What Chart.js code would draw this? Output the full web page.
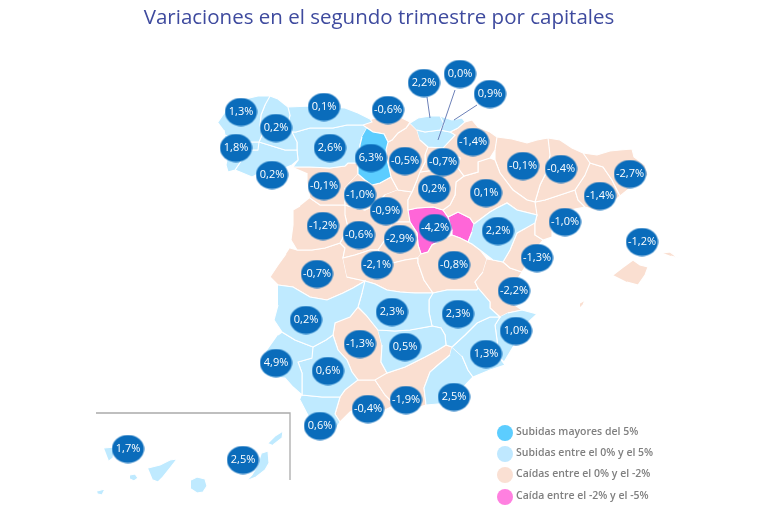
<!DOCTYPE html>
<html lang="es"><head><meta charset="utf-8">
<script src="https://cdn.jsdelivr.net/npm/chart.js@4"></script>
<style>html,body{margin:0;padding:0;background:#fff}canvas{display:block}</style>
</head><body><canvas id="c" width="758" height="525"></canvas>
<script>
// ---- data ----
const titleText = "Variaciones en el segundo trimestre por capitales";
const legendLabels = ["Subidas mayores del 5%","Subidas entre el 0% y el 5%","Caídas entre el 0% y el -2%","Caída entre el -2% y el -5%"];
const legendX = [505,505,505,505];
const legendY = [433,454,475,497];
const bubbleLabels = ["1,3%","0,2%","1,8%","0,2%","0,1%","2,6%","-0,6%","6,3%","-0,5%","2,2%","0,0%","0,9%","-1,4%","-0,7%","0,2%","-0,1%","-1,0%","-0,9%","-1,2%","-0,6%","-2,9%","-4,2%","0,1%","2,2%","-0,1%","-0,4%","-2,7%","-1,4%","-1,0%","-1,3%","-1,2%","-0,7%","-2,1%","-0,8%","-2,2%","0,2%","2,3%","2,3%","1,0%","-1,3%","0,5%","1,3%","4,9%","0,6%","-0,4%","-1,9%","2,5%","0,6%","1,7%","2,5%"];
const bubbleX = [241,276,236,272,324,330,388,371,405,424,460,490,473,443,434,324,360,386,323,359,400,435,486,498,523,561,630,600,565,537,642,317,377,454,514,306,392,458,516,360,405,486,276,328,368,406,454,320,128,243];
const bubbleY = [112,128,148,175,107,148,110,158,161,83,74,94,142,162,189,186,195,211,226,235,239,228,193,231,166,169,174,196,222,258,242,274,265,265,291,320,312,314,331,344,347,354,363,371,409,400,397,426,449,460];

const coruna=[[218,122],[225,112],[233,103],[245,99],[258,96],[270,96],[265,105],[261,115],[260,125],[262,135],[259,142],[250,142],[240,141],[225,135],[224,130]];
const lugo=[[270,96],[278,99],[288,107],[290,115],[288,125],[292,132],[297,142],[297,150],[285,150],[272,146],[259,142],[262,135],[260,125],[261,115],[265,105]];
const pontevedra=[[225,135],[240,141],[250,142],[259,142],[258,150],[250,150],[243,158],[235,170],[228,172],[226,165],[228,155]];
const ourense=[[259,142],[272,146],[285,150],[297,150],[298,160],[292,165],[280,170],[262,172],[252,177],[240,172],[235,170],[243,158],[250,150],[258,150]];
const asturias=[[288,107],[312,106],[345,108],[358,113],[370,119],[372,122],[363,125],[347,125],[333,128],[310,128],[296,132],[292,132],[288,125],[290,115]];
const cantabria=[[363,125],[372,119],[385,116],[398,116],[410,122],[406,128],[398,133],[392,140],[388,142],[384,134],[373,132],[367,128]];
const leon=[[292,132],[296,132],[310,128],[333,128],[347,125],[363,125],[367,128],[362,137],[360,145],[360,155],[358,163],[348,163],[345,166],[330,168],[310,167],[293,167],[298,160],[297,150],[297,142]];
const palencia=[[367,128],[373,132],[384,134],[388,142],[386,150],[387,160],[389,168],[391,177],[380,183],[372,185],[365,180],[358,174],[358,163],[360,155],[360,145],[362,137]];
const burgos=[[388,142],[392,140],[398,133],[406,128],[410,123],[417,130],[420,140],[428,147],[425,155],[425,162],[420,172],[417,180],[412,192],[398,190],[391,177],[389,168],[387,160],[386,150]];
const rioja=[[428,147],[443,148],[448,152],[460,158],[458,168],[450,172],[435,170],[420,172],[425,162],[425,155]];
const bizkaia=[[410,123],[418,118],[430,116],[440,116],[444,124],[440,130],[425,132],[417,130]];
const gipuzkoa=[[440,116],[452,120],[462,118],[465,122],[458,128],[450,132],[440,130],[444,124]];
const alava=[[417,130],[425,132],[440,130],[450,132],[455,135],[443,148],[428,147],[420,140]];
const trevino=[[437,143],[442,141],[447,142],[444,145],[439,145]];
const navarra=[[465,122],[472,120],[478,127],[490,132],[497,137],[495,150],[490,158],[478,162],[478,172],[464,176],[458,168],[460,158],[448,152],[443,148],[455,135],[450,132],[458,128]];
const soria=[[420,172],[435,170],[450,172],[458,168],[464,176],[456,182],[455,195],[450,205],[443,210],[433,207],[417,208],[408,210],[408,200],[412,192],[417,180]];
const zaragoza=[[490,158],[495,160],[500,173],[513,190],[527,200],[535,202],[537,215],[517,210],[507,203],[497,208],[490,212],[474,224],[470,218],[458,212],[448,217],[443,210],[450,205],[455,195],[456,182],[464,176],[478,172],[478,162]];
const guadalajara=[[408,210],[417,208],[433,207],[443,210],[448,217],[452,230],[445,238],[432,245],[428,252],[421,254],[418,245],[417,233],[410,222]];
const pinkEast=[[448,217],[458,212],[470,218],[474,224],[472,232],[468,242],[460,238],[452,235],[452,230]];
const teruel=[[474,224],[490,212],[497,208],[507,203],[517,210],[537,215],[535,223],[526,228],[517,233],[510,250],[503,262],[493,260],[480,250],[472,244],[468,242],[472,232]];
const huesca=[[497,137],[512,139],[527,143],[537,140],[548,138],[550,155],[546,173],[540,185],[535,202],[527,200],[513,190],[500,173],[495,160],[495,150]];
const lleida=[[548,138],[560,140],[572,148],[583,153],[590,163],[585,175],[575,190],[560,195],[545,200],[535,202],[540,185],[546,173],[550,155]];
const girona=[[583,153],[597,155],[610,151],[620,150],[632,149],[634,157],[645,165],[648,175],[640,182],[630,188],[620,196],[612,180],[603,167],[590,163]];
const barcelona=[[590,163],[603,167],[612,180],[620,196],[610,205],[598,211],[585,207],[578,200],[575,190],[585,175]];
const tarragona=[[535,202],[545,200],[560,195],[575,190],[578,200],[585,207],[570,210],[560,218],[552,228],[552,237],[543,240],[535,235],[535,223],[537,215]];
const castellon=[[535,223],[535,235],[543,240],[535,250],[528,262],[522,272],[510,268],[503,262],[510,250],[517,233],[526,228]];
const valencia=[[487,259],[493,260],[503,262],[510,268],[522,272],[515,283],[507,295],[512,303],[522,310],[508,313],[500,317],[490,308],[490,302],[478,288],[475,282],[483,272]];
const alicante=[[508,313],[522,310],[537,314],[525,325],[520,333],[513,347],[504,362],[499,357],[497,340],[495,325],[500,317]];
const murcia=[[452,347],[465,335],[477,323],[490,317],[500,317],[495,325],[497,340],[499,357],[505,365],[490,370],[473,377],[468,370],[462,356]];
const albacete=[[433,293],[447,290],[477,290],[478,288],[490,302],[490,308],[500,317],[490,317],[477,323],[465,335],[452,347],[446,345],[445,335],[441,328],[432,326],[429,312],[429,300]];
const cuenca=[[421,254],[428,252],[432,245],[445,238],[452,235],[460,238],[468,242],[472,244],[480,250],[487,259],[483,272],[475,282],[478,288],[477,290],[447,290],[433,293],[424,280],[418,263],[418,258]];
const toledo=[[343,258],[355,255],[370,250],[378,250],[385,258],[393,263],[405,260],[418,258],[418,263],[424,280],[433,293],[415,293],[400,292],[387,290],[375,284],[365,281],[347,277]];
const madrid=[[393,222],[410,222],[417,233],[418,245],[421,254],[418,258],[405,260],[393,263],[385,258],[378,250],[385,240]];
const segovia=[[398,190],[412,192],[408,200],[408,210],[410,222],[393,222],[380,215],[375,205],[385,195]];
const valladolid=[[358,174],[365,180],[372,185],[380,183],[391,177],[398,190],[385,195],[375,205],[365,210],[355,208],[345,205],[345,188]];
const zamora=[[293,167],[310,167],[330,168],[345,166],[348,163],[358,163],[358,174],[345,188],[345,205],[335,205],[320,205],[310,198],[307,183],[307,173]];
const salamanca=[[310,198],[320,205],[335,205],[345,205],[345,215],[348,228],[340,243],[325,248],[312,250],[297,250],[291,240],[293,225],[293,210],[300,206]];
const avila=[[345,205],[355,208],[365,210],[375,205],[380,215],[393,222],[385,240],[378,250],[370,250],[355,255],[343,258],[345,248],[340,243],[348,228],[345,215]];
const caceres=[[290,248],[297,250],[312,250],[325,248],[340,243],[345,248],[343,258],[347,277],[365,281],[353,288],[343,293],[327,300],[310,297],[293,287],[278,285],[270,277],[278,265],[286,254]];
const badajoz=[[278,285],[293,287],[310,297],[327,300],[343,293],[353,288],[365,281],[362,293],[358,307],[350,317],[335,323],[333,335],[326,340],[313,347],[295,340],[282,332],[274,320],[278,305]];
const huelva=[[278,335],[282,332],[295,340],[313,347],[312,358],[298,362],[302,373],[302,395],[293,387],[285,378],[270,377],[262,372],[266,352]];
const sevilla=[[313,347],[326,340],[333,335],[338,350],[347,360],[352,372],[358,380],[345,390],[340,397],[322,397],[302,395],[302,373],[298,362],[312,358]];
const cordoba=[[350,317],[358,307],[366,315],[378,330],[382,345],[381,362],[387,373],[375,380],[358,380],[352,372],[347,360],[338,350],[333,335],[335,323]];
const ciudadReal=[[365,281],[375,284],[387,290],[400,292],[415,293],[433,293],[429,300],[429,312],[432,326],[410,330],[395,331],[378,330],[366,315],[358,307],[362,293]];
const jaen=[[378,330],[395,331],[410,330],[432,326],[441,328],[445,335],[446,345],[438,350],[425,357],[405,367],[387,373],[381,362],[382,345]];
const granada=[[387,373],[405,367],[425,357],[438,350],[446,345],[452,347],[450,355],[438,365],[430,372],[424,388],[426,405],[410,410],[395,405],[385,395],[375,380]];
const almeria=[[452,347],[462,356],[468,370],[473,377],[467,383],[455,397],[450,403],[426,405],[424,388],[430,372],[438,365],[450,355]];
const malaga=[[358,380],[375,380],[385,395],[395,405],[385,410],[360,407],[350,412],[340,422],[335,414],[340,397],[345,390]];
const cadiz=[[302,395],[322,397],[340,397],[335,414],[340,422],[335,430],[322,437],[313,425],[300,400]];
const mallorca=[[613,275],[622,268],[633,260],[640,265],[648,267],[645,275],[638,285],[627,282]];
const menorca=[[663,253],[670,252],[678,258],[671,256]];
const ibiza=[[580,303],[585,300],[583,305],[580,308]];
const laPalma=[[104,448],[115,447],[113,458],[109,461]];
const gomera=[[130,475],[135,474],[138,478],[134,481],[130,479]];
const tenerife=[[148,468],[160,465],[170,460],[177,459],[170,468],[162,478],[158,482],[153,480]];
const granCanaria=[[191,480],[197,477],[205,479],[207,486],[203,492],[197,493],[191,489]];
const fuerteventura=[[262,453],[268,451],[269,463],[265,470],[256,477],[246,481],[252,475],[258,465]];
const lanzarote=[[268,443],[275,436],[283,431],[282,438],[273,445]];
const hierro=[[97,491],[105,489],[102,495],[98,494]];
const frameLine=[[96,413],[290,413],[290,480]];
const leader1=[[427,97],[430,118]];
const leader2=[[455,90],[438,140]];
const leader3=[[477,105],[454,120]];

const deep=[palencia];
const rising=[coruna,lugo,pontevedra,ourense,asturias,leon,bizkaia,gipuzkoa,alava,teruel,badajoz,huelva,sevilla,cadiz,ciudadReal,jaen,albacete,murcia,alicante,almeria,laPalma,gomera,tenerife,granCanaria,fuerteventura,lanzarote,hierro];
const falling=[cantabria,burgos,rioja,navarra,soria,zaragoza,huesca,lleida,girona,barcelona,tarragona,castellon,valencia,cuenca,toledo,madrid,segovia,valladolid,zamora,salamanca,avila,caceres,cordoba,granada,malaga,mallorca,menorca,ibiza,trevino];
const pink=[guadalajara,pinkEast];

// ---- styles ----
const C_DEEP="#5CCDFF",C_RISE="#BFEAFF",C_FALL="#FADFD1",C_PINK="#FF66D8",C_BUB="#0A6CBB";
const legendColors=["#5CCDFF","#BFE8FF","#FAE0D3","#FF80E0"];
const toXY=a=>a.map(p=>({x:p[0],y:p[1]}));
function shape(poly,color){return{type:'scatter',data:toXY(poly),showLine:true,fill:'shape',backgroundColor:color,borderColor:'#fff',borderWidth:1.1,pointRadius:0,tension:0,order:5};}
function line(poly,color,w){return{type:'scatter',data:toXY(poly),showLine:true,fill:false,borderColor:color,borderWidth:w,pointRadius:0,order:3};}
const oval=document.createElement('canvas');oval.width=33;oval.height=29;
{const g=oval.getContext('2d');g.fillStyle=C_BUB;g.beginPath();g.ellipse(16.5,14.5,16,14,0,0,Math.PI*2);g.fill();}

const datasets=[];
[[deep,C_DEEP],[rising,C_RISE],[falling,C_FALL],[pink,C_PINK]].forEach(([g,col])=>g.forEach(p=>datasets.push(shape(p,col))));
datasets.push(line(frameLine,"#ABABAB",1.3));
[leader1,leader2,leader3].forEach(l=>datasets.push(line(l,"#6C80B8",1)));
datasets.push({type:'scatter',label:'bubbles',data:bubbleX.map((x,i)=>({x,y:bubbleY[i]})),pointStyle:oval,pointRadius:16,order:1});
datasets.push({type:'scatter',label:'legend',data:legendX.map((x,i)=>({x,y:legendY[i]})),pointRadius:8,pointBackgroundColor:legendColors,pointBorderWidth:0,order:1});

const textPlugin={id:'texts',afterDatasetsDraw(chart){
  const ctx=chart.ctx;ctx.save();
  chart.data.datasets.forEach((d,i)=>{
    const m=chart.getDatasetMeta(i);
    if(d.label==='bubbles'){
      ctx.font='11px "Open Sans"';ctx.fillStyle='#fff';ctx.textAlign='center';ctx.textBaseline='middle';
      m.data.forEach((pt,k)=>ctx.fillText(bubbleLabels[k],pt.x,pt.y));
    }
    if(d.label==='legend'){
      ctx.font='600 10.5px "Open Sans"';ctx.fillStyle='#7F7F7F';ctx.textAlign='left';ctx.textBaseline='middle';
      m.data.forEach((pt,k)=>ctx.fillText(legendLabels[k],pt.x+11,pt.y-0.5));
    }
  });
  ctx.restore();
}};

new Chart(document.getElementById('c'),{
  data:{datasets},
  options:{
    responsive:false,animation:false,devicePixelRatio:1,
    layout:{padding:0,autoPadding:false},
    events:[],
    plugins:{
      legend:{display:false},tooltip:{enabled:false},
      title:{display:true,text:titleText,color:'#3E4A9E',font:{family:'"Open Sans"',size:20.5,weight:'normal',lineHeight:1.2},padding:{top:6,bottom:9.4}}
    },
    scales:{
      x:{type:'linear',display:false,min:0,max:758},
      y:{type:'linear',display:false,min:40,max:525,reverse:true}
    }
  },
  plugins:[textPlugin]
});
</script></body></html>
